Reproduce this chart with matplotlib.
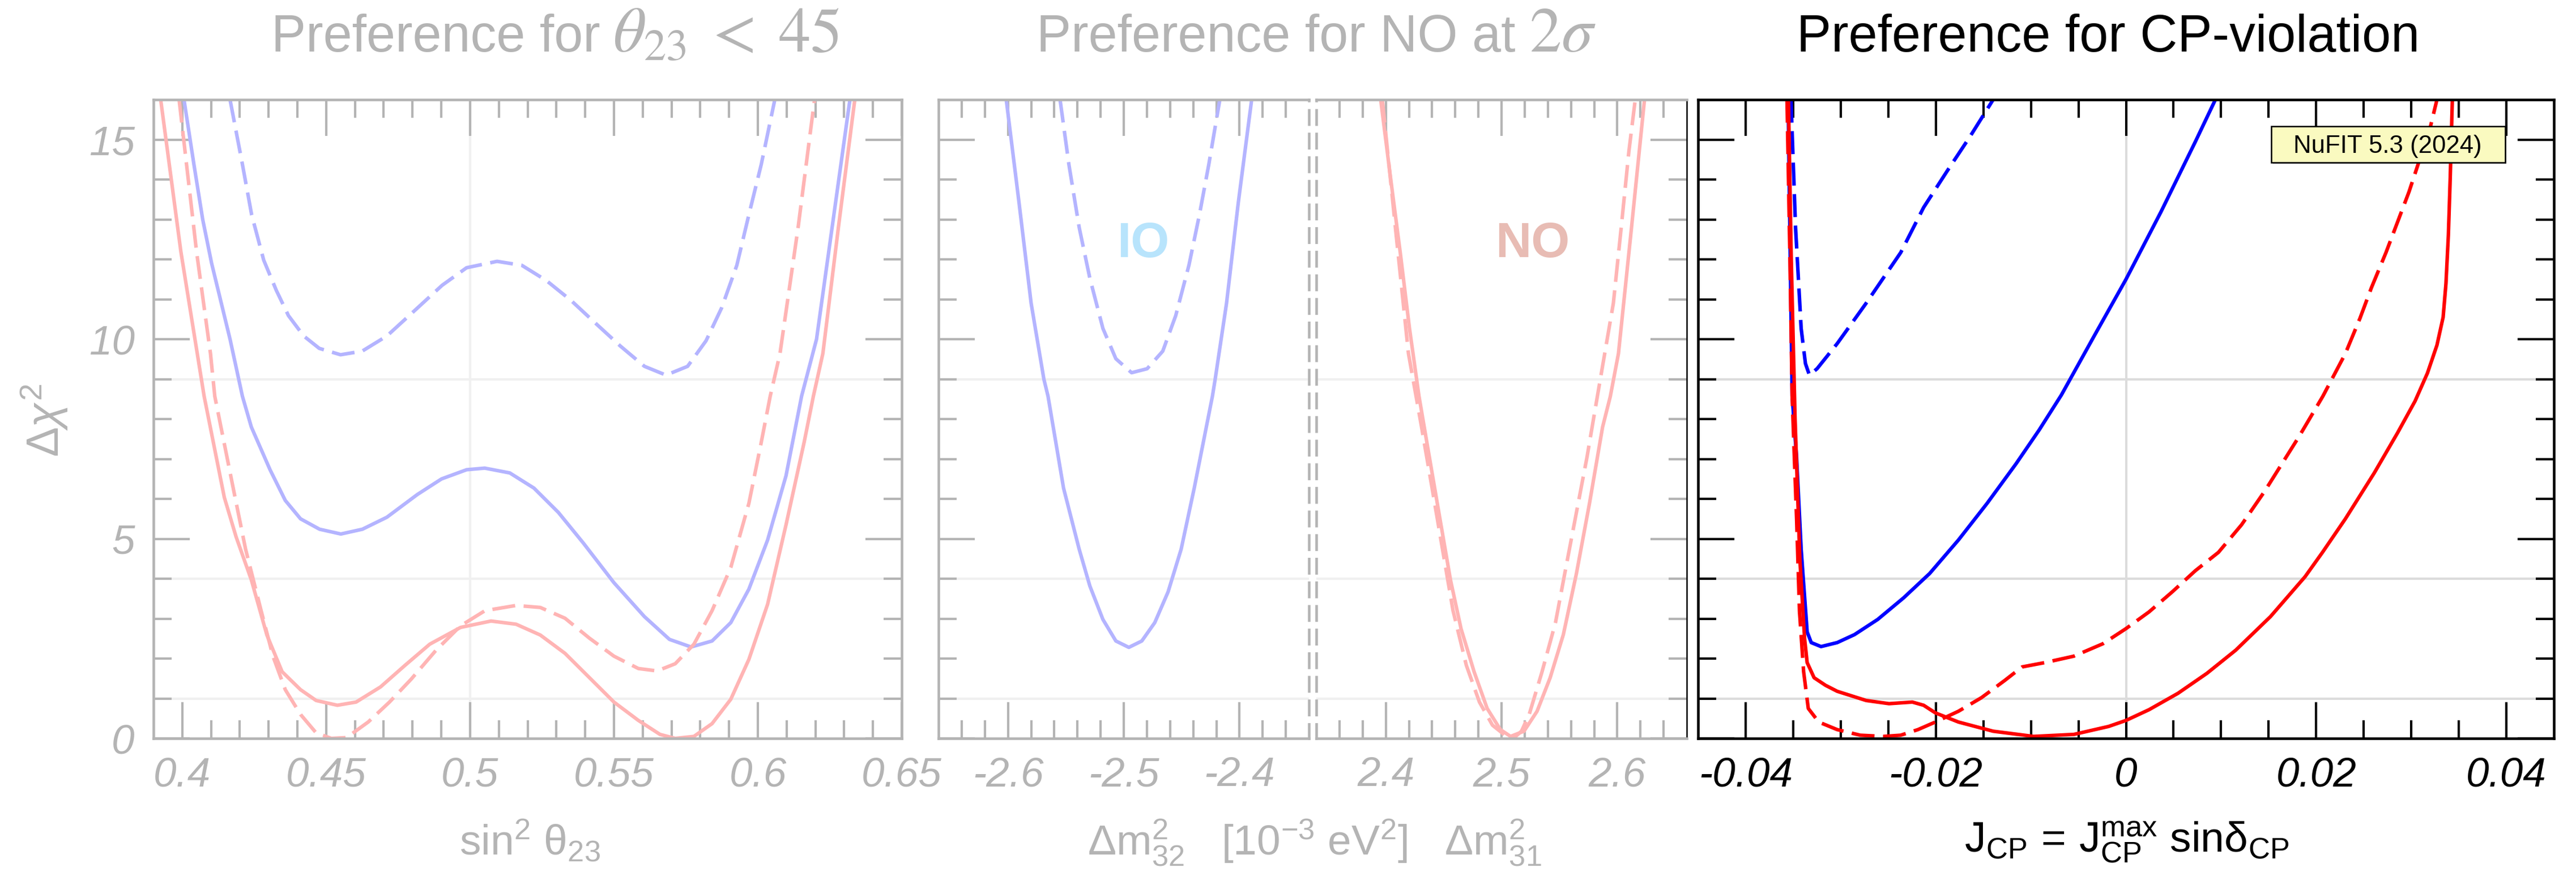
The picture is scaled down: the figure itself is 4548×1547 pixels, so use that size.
"""
Delta chi^2 profiles: octant of theta23, mass ordering, and CP violation
"""

import matplotlib
matplotlib.use('Agg')
import matplotlib.pyplot as plt
import numpy as np
from matplotlib.patches import Rectangle
from matplotlib.ticker import FixedLocator

plt.rcParams['font.family'] = ['Liberation Sans', 'DejaVu Sans']
plt.rcParams['mathtext.fontset'] = 'custom'
plt.rcParams['mathtext.rm'] = 'Liberation Sans'
plt.rcParams['mathtext.it'] = 'Liberation Sans:italic'
plt.rcParams['mathtext.bf'] = 'Liberation Sans:bold'
plt.rcParams['axes.unicode_minus'] = False

# --- sin^2 theta23 profiles ---
th_io_solid_x = [0.4006, 0.4040, 0.4071, 0.4102, 0.4166, 0.4209, 0.4240, 0.4305, 0.4358, 0.4411,
                 0.4477, 0.4551, 0.4626, 0.4711, 0.4817, 0.4901, 0.4988, 0.5051, 0.5138, 0.5222,
                 0.5307, 0.5394, 0.5500, 0.5606, 0.5693, 0.5768, 0.5841, 0.5906, 0.5969, 0.6034,
                 0.6098, 0.6152, 0.6204, 0.6246, 0.6320]
th_io_solid_y = [16.0, 14.4, 13.0, 11.9, 10.0, 8.57, 7.80, 6.73, 5.96, 5.50,
                 5.24, 5.12, 5.24, 5.54, 6.11, 6.50, 6.73, 6.77, 6.65, 6.27,
                 5.66, 4.89, 3.90, 3.05, 2.48, 2.29, 2.44, 2.90, 3.74, 4.97,
                 6.58, 8.57, 10.0, 12.17, 16.0]

th_io_dash_x = [0.4166, 0.4209, 0.4241, 0.4283, 0.4327, 0.4369, 0.4422, 0.4476, 0.4550, 0.4625,
                0.4711, 0.4817, 0.4903, 0.4988, 0.5094, 0.5180, 0.5265, 0.5351, 0.5436, 0.5522,
                0.5606, 0.5681, 0.5756, 0.5820, 0.5874, 0.5927, 0.5969, 0.6012, 0.6059]
th_io_dash_y = [16.0, 14.38, 13.12, 11.98, 11.22, 10.59, 10.08, 9.77, 9.61, 9.70,
                10.08, 10.78, 11.35, 11.79, 11.95, 11.85, 11.47, 10.97, 10.40, 9.83,
                9.32, 9.10, 9.32, 9.96, 10.78, 11.85, 13.12, 14.38, 16.0]

th_no_solid_x = [0.3925, 0.3995, 0.4076, 0.4146, 0.4187, 0.4240, 0.4294, 0.4347, 0.4411, 0.4465,
                 0.4539, 0.4604, 0.4689, 0.4774, 0.4860, 0.4967, 0.5073, 0.5160, 0.5244, 0.5330,
                 0.5415, 0.5500, 0.5585, 0.5660, 0.5713, 0.5778, 0.5841, 0.5906, 0.5969, 0.6034,
                 0.6098, 0.6161, 0.6193, 0.6226, 0.6280, 0.6337]
th_no_solid_y = [16.0, 12.2, 8.57, 6.04, 5.05, 3.97, 2.59, 1.67, 1.22, 0.95,
                 0.83, 0.91, 1.29, 1.83, 2.36, 2.78, 2.94, 2.86, 2.59, 2.13,
                 1.52, 0.91, 0.45, 0.10, 0.0, 0.05, 0.37, 0.98, 1.98, 3.36,
                 5.35, 7.42, 8.57, 9.64, 12.8, 16.0]

th_no_dash_x = [0.3989, 0.4050, 0.4098, 0.4113, 0.4177, 0.4220, 0.4274, 0.4315, 0.4358, 0.4411,
                0.4465, 0.4518, 0.4571, 0.4646, 0.4720, 0.4795, 0.4882, 0.4967, 0.5052, 0.5160,
                0.5244, 0.5330, 0.5415, 0.5500, 0.5585, 0.5650, 0.5713, 0.5778, 0.5841, 0.5906,
                0.5969, 0.6012, 0.6043, 0.6077, 0.6140, 0.6197]
th_no_dash_y = [16.0, 12.17, 9.64, 8.57, 6.27, 4.74, 3.20, 2.06, 1.22, 0.60,
                0.14, 0.0, 0.02, 0.41, 0.91, 1.48, 2.21, 2.82, 3.20, 3.33,
                3.28, 3.01, 2.51, 2.06, 1.75, 1.69, 1.87, 2.36, 3.20, 4.28,
                5.89, 7.42, 8.57, 9.64, 12.8, 16.0]

# --- Delta m^2_32 (IO) profiles ---
io_solid_x = [-2.6015, -2.5905, -2.5800, -2.5690, -2.5654, -2.5520, -2.5385, -2.5293, -2.5180, -2.5068,
              -2.4956, -2.4844, -2.4732, -2.4617, -2.4504, -2.4391, -2.4234, -2.4210, -2.4112, -2.4010,
              -2.3895]
io_solid_y = [16.0, 13.43, 10.9, 9.0, 8.57, 6.27, 4.74, 3.82, 2.98, 2.44,
              2.28, 2.44, 2.90, 3.67, 4.74, 6.27, 8.57, 9.0, 10.9, 13.43,
              16.0]

io_dash_x = [-2.5550, -2.5474, -2.5385, -2.5293, -2.5180, -2.5068, -2.4932, -2.4798, -2.4663, -2.4551,
             -2.4437, -2.4346, -2.4265, -2.4170]
io_dash_y = [16.0, 14.38, 12.8, 11.53, 10.27, 9.51, 9.16, 9.26, 9.70, 10.59,
             11.85, 13.12, 14.38, 16.0]

# --- Delta m^2_31 (NO) profiles ---
no_solid_x = [2.3956, 2.4040, 2.4125, 2.4205, 2.4287, 2.4377, 2.4468, 2.4559, 2.4650, 2.4763,
              2.4876, 2.4990, 2.5078, 2.5194, 2.5307, 2.5420, 2.5534, 2.5647, 2.5760, 2.5873,
              2.5940, 2.6010, 2.6123, 2.6235]
no_solid_y = [16.0, 14.07, 12.17, 10.27, 8.57, 7.04, 5.50, 3.97, 2.75, 1.67,
              0.75, 0.22, 0.05, 0.18, 0.68, 1.52, 2.60, 4.13, 5.89, 7.80,
              8.57, 9.64, 12.8, 16.0]

no_dash_x = [2.3970, 2.4083, 2.4196, 2.4309, 2.4400, 2.4490, 2.4581, 2.4696, 2.4809, 2.4922,
             2.5034, 2.5103, 2.5172, 2.5239, 2.5350, 2.5466, 2.5556, 2.5647, 2.5738, 2.5828,
             2.5966, 2.6034, 2.6100, 2.6155]
no_dash_y = [16.0, 12.8, 9.64, 7.80, 6.27, 4.74, 3.20, 1.83, 0.91, 0.33,
             0.07, 0.0, 0.18, 0.60, 1.67, 2.90, 4.28, 5.66, 7.04, 8.57,
             10.9, 12.8, 14.7, 16.0]

# --- J_CP profiles ---
cp_io_solid_x = [-0.03553, -0.03535, -0.03511, -0.03464, -0.03416, -0.03353, -0.03310, -0.03207, -0.03037,
                 -0.02855, -0.02611, -0.02339, -0.02065, -0.01762, -0.01460, -0.01156, -0.00912, -0.00680,
                 -0.00330, 0.0, 0.00370, 0.00730, 0.00940]
cp_io_solid_y = [16.0, 12.8, 8.58, 7.04, 4.74, 2.67, 2.40, 2.30, 2.40,
                 2.60, 2.98, 3.52, 4.13, 4.97, 5.89, 6.88, 7.73, 8.60,
                 10.1, 11.5, 13.2, 14.95, 16.0]

cp_io_dash_x = [-0.03523, -0.03475, -0.03416, -0.03371, -0.03329, -0.03249, -0.03037, -0.02733, -0.02369,
                -0.02128, -0.01884, -0.01639, -0.01397]
cp_io_dash_y = [16.0, 12.8, 10.27, 9.39, 9.10, 9.26, 9.89, 10.9, 12.17,
                13.3, 14.2, 15.08, 16.0]

cp_no_solid_x = [-0.03550, -0.03520, -0.03480, -0.03430, -0.03380, -0.03353, -0.03280, -0.03160, -0.03037,
                 -0.02733, -0.02492, -0.02247, -0.02128, -0.02005, -0.01762, -0.01397, -0.00972, -0.00548,
                 -0.00182, 0.0, 0.00243, 0.00547, 0.00851, 0.01154, 0.01519, 0.01883, 0.02066,
                 0.02307, 0.02611, 0.02855, 0.03040, 0.03170, 0.03270, 0.03335, 0.03365, 0.03390,
                 0.03410, 0.03432]
cp_no_solid_y = [16.0, 12.0, 8.0, 4.5, 2.5, 1.90, 1.52, 1.33, 1.18,
                 0.95, 0.87, 0.91, 0.83, 0.64, 0.41, 0.18, 0.05, 0.10,
                 0.30, 0.45, 0.72, 1.13, 1.63, 2.21, 3.05, 4.05, 4.66,
                 5.50, 6.65, 7.65, 8.45, 9.15, 9.85, 10.55, 11.40, 12.6,
                 14.07, 16.0]

cp_no_dash_x = [-0.03565, -0.03535, -0.03511, -0.03464, -0.03434, -0.03390, -0.03341, -0.03231, -0.03037,
                -0.02795, -0.02551, -0.02369, -0.02188, -0.02005, -0.01762, -0.01520, -0.01276, -0.01093,
                -0.00851, -0.00548, -0.00244, 0.0, 0.00243, 0.00486, 0.00729, 0.00972, 0.01215,
                0.01458, 0.01640, 0.01822, 0.02070, 0.02307, 0.02460, 0.02581, 0.02734, 0.02855,
                0.02976, 0.03098, 0.03189, 0.03267]
cp_no_dash_y = [16.0, 12.17, 8.57, 5.50, 3.20, 1.67, 0.75, 0.41, 0.22,
                0.08, 0.05, 0.08, 0.22, 0.41, 0.68, 1.02, 1.45, 1.79,
                1.90, 2.06, 2.37, 2.75, 3.17, 3.67, 4.20, 4.66, 5.35,
                6.19, 6.88, 7.57, 8.57, 9.64, 10.52, 11.29, 12.17, 12.93,
                13.69, 14.57, 15.20, 15.97]

# ticks and labels
y_major = [0, 5, 10, 15]
y_labels = ['0', '5', '10', '15']
th_ticks = [0.4, 0.45, 0.5, 0.55, 0.6, 0.65]
th_labels = ['0.4', '0.45', '0.5', '0.55', '0.6', '0.65']
io_ticks = [-2.6, -2.5, -2.4]
io_labels = ['-2.6', '-2.5', '-2.4']
no_ticks = [2.4, 2.5, 2.6]
no_labels = ['2.4', '2.5', '2.6']
cp_ticks = [-0.04, -0.02, 0, 0.02, 0.04]
cp_labels = ['-0.04', '-0.02', '0', '0.02', '0.04']
sigma_levels = [1, 4, 9]

GRAY = '#b4b4b4'
LBLUE = '#b4b4ff'
LRED = '#ffb4b4'
LW = 1.5
DASH = (6.5, 2.4)

W, H = 4548, 1547
fig = plt.figure(figsize=(W / 300, H / 300), dpi=300)
bot = 1 - 1304 / H
hgt = (1304 - 176) / H
ax_th = fig.add_axes([271 / W, bot, (1592 - 271) / W, hgt])
ax_io = fig.add_axes([1657 / W, bot, (2311 - 1657) / W, hgt])
ax_no = fig.add_axes([2324 / W, bot, (2978 - 2324) / W, hgt])
ax_cp = fig.add_axes([2998 / W, bot, (4509 - 2998) / W, hgt])


def style_axis(ax, color, left=True, right=True):
    ax.set_ylim(0, 16)
    ax.yaxis.set_major_locator(FixedLocator(y_major))
    ax.yaxis.set_minor_locator(FixedLocator(list(range(1, 16))))
    ax.tick_params(which='both', direction='in', top=True, bottom=True, left=left, right=right,
                   color=color, labelcolor=color, labelleft=False, width=1.0, labelsize=17.5)
    ax.tick_params(which='major', length=15.4, pad=7.5)
    ax.tick_params(which='minor', length=7.7)
    for sp in ax.spines.values():
        sp.set_color(color)
        sp.set_linewidth(1.1)


# octant panel
style_axis(ax_th, GRAY)
ax_th.set_xlim(0.39, 0.65)
ax_th.set_xticks(th_ticks, th_labels, fontstyle='italic', fontsize=17.5)
ax_th.xaxis.set_minor_locator(FixedLocator(np.arange(0.40, 0.6501, 0.01)))
ax_th.tick_params(axis='y', labelleft=True, pad=8)
ax_th.set_yticks(y_major, y_labels, fontstyle='italic', fontsize=17.5)
for v in sigma_levels:
    ax_th.axhline(v, color='#f0f0f0', lw=1.0, zorder=0.5)
ax_th.axvline(0.5, color='#f0f0f0', lw=1.0, zorder=0.5)
ax_th.plot(th_io_dash_x, th_io_dash_y, color=LBLUE, lw=LW, dashes=DASH)
ax_th.plot(th_io_solid_x, th_io_solid_y, color=LBLUE, lw=LW)
ax_th.plot(th_no_dash_x, th_no_dash_y, color=LRED, lw=LW, dashes=DASH)
ax_th.plot(th_no_solid_x, th_no_solid_y, color=LRED, lw=LW)

# mass ordering panels
style_axis(ax_io, GRAY, left=True, right=False)
ax_io.set_xlim(-2.66, -2.34)
ax_io.set_xticks(io_ticks, io_labels, fontstyle='italic', fontsize=17.5)
ax_io.xaxis.set_minor_locator(FixedLocator(np.arange(-2.64, -2.355, 0.02)))
ax_io.spines['right'].set_linestyle((0, (5.5, 3.6)))

style_axis(ax_no, GRAY, left=False, right=True)
ax_no.set_xlim(2.34, 2.66)
ax_no.set_xticks(no_ticks, no_labels, fontstyle='italic', fontsize=17.5)
ax_no.xaxis.set_minor_locator(FixedLocator(np.arange(2.36, 2.645, 0.02)))
ax_no.spines['left'].set_linestyle((0, (5.5, 3.6)))
ax_no.spines['right'].set_color('black')
ax_no.spines['right'].set_linewidth(0.6)

for ax in (ax_io, ax_no):
    for v in sigma_levels:
        ax.axhline(v, color='#f0f0f0', lw=1.0, zorder=0.5)
ax_io.plot(io_dash_x, io_dash_y, color=LBLUE, lw=LW, dashes=DASH)
ax_io.plot(io_solid_x, io_solid_y, color=LBLUE, lw=LW)
ax_no.plot(no_dash_x, no_dash_y, color=LRED, lw=LW, dashes=DASH)
ax_no.plot(no_solid_x, no_solid_y, color=LRED, lw=LW)
ax_io.text(-2.483, 12.06, 'IO', color='#b8e4fc', fontsize=21, fontweight='bold',
           ha='center', va='baseline')
ax_no.text(2.527, 12.06, 'NO', color='#e8bcb4', fontsize=21, fontweight='bold',
           ha='center', va='baseline')

# CP panel
style_axis(ax_cp, 'black')
ax_cp.set_xlim(-0.045, 0.045)
ax_cp.set_xticks(cp_ticks, cp_labels, fontstyle='italic', fontsize=17.5)
ax_cp.xaxis.set_minor_locator(FixedLocator(np.arange(-0.04, 0.0401, 0.005)))
for v in sigma_levels:
    ax_cp.axhline(v, color='#dcdcdc', lw=1.0, zorder=0.5)
ax_cp.axvline(0, color='#dcdcdc', lw=1.0, zorder=0.5)
ax_cp.plot(cp_io_dash_x, cp_io_dash_y, color='blue', lw=LW, dashes=DASH)
ax_cp.plot(cp_io_solid_x, cp_io_solid_y, color='blue', lw=LW)
ax_cp.plot(cp_no_dash_x, cp_no_dash_y, color='red', lw=LW, dashes=DASH)
ax_cp.plot(cp_no_solid_x, cp_no_solid_y, color='red', lw=LW)

# version tag with drop shadow
ax_cp.add_patch(Rectangle((0.6715, 0.9002), 0.273, 0.056, transform=ax_cp.transAxes,
                          facecolor='#555555', edgecolor='none', zorder=5))
ax_cp.add_patch(Rectangle((0.670, 0.902), 0.273, 0.056, transform=ax_cp.transAxes,
                          facecolor='#fafac0', edgecolor='black', lw=0.6, zorder=6))
ax_cp.text(0.8054, 0.9167, 'NuFIT 5.3 (2024)', transform=ax_cp.transAxes, fontsize=10.5,
           ha='center', va='baseline', zorder=7)

# titles: plain words in sans, the math part a bit larger in a serif math font
ty = 1 - 91 / H
fig.text(1060 / W, ty, 'Preference for', ha='right', va='baseline', fontsize=22, color=GRAY)
fig.text(1082 / W, ty, r'$\theta_{23}\;<\;45$', ha='left', va='baseline',
         fontsize=27, color=GRAY, math_fontfamily='stix')
fig.text(2675 / W, ty, 'Preference for NO at', ha='right', va='baseline', fontsize=22, color=GRAY)
fig.text(2700 / W, ty, r'$2\sigma$', ha='left', va='baseline',
         fontsize=27, color=GRAY, math_fontfamily='stix')
fig.text(3722 / W, ty, 'Preference for CP-violation', ha='center', va='baseline',
         fontsize=22, color='black')

# axis labels
fig.text(78 / W, 1 - 742 / H, r'$\Delta\chi^2$', rotation=90, ha='center', va='center',
         fontsize=19, color=GRAY)
fig.text(935 / W, 1 - 1510 / H, r'$\mathrm{sin}^2\ \mathrm{\theta}_{23}$', ha='center',
         va='baseline', fontsize=18, color=GRAY)
fig.text(2321 / W, 1 - 1510 / H,
         r'$\Delta\mathrm{m}^2_{32}$   [10$^{-3}$ eV$^2$]   $\Delta\mathrm{m}^2_{31}$',
         ha='center', va='baseline', fontsize=18, color=GRAY)
fig.text(3755 / W, 1 - 1505 / H,
         r'$\mathrm{J_{CP}\,=\,J_{CP}^{max}\ sin\delta_{CP}}$',
         ha='center', va='baseline', fontsize=18, color='black')

fig.savefig('out.png', dpi=300)
plt.close(fig)
